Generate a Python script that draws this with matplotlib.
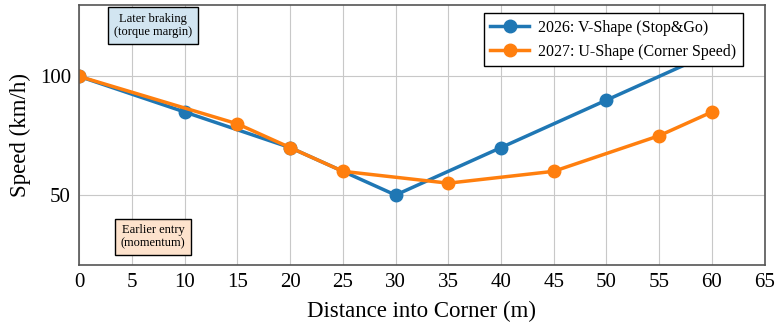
import matplotlib.pyplot as plt

plt.rcParams['font.family'] = ['Liberation Serif', 'DejaVu Serif']

dist_2026 = [0, 10, 20, 30, 40, 50, 60]
speed_2026 = [100, 85, 70, 50, 70, 90, 110]
dist_2027 = [0, 15, 20, 25, 35, 45, 55, 60]
speed_2027 = [100, 80, 70, 60, 55, 60, 75, 85]
label_2026 = "2026: V-Shape (Stop&Go)"
label_2027 = "2027: U-Shape (Corner Speed)"

fig = plt.figure(figsize=(7.77, 3.26), dpi=100)
ax = fig.add_axes([0.102, 0.187, 0.882, 0.797])

ax.plot(dist_2026, speed_2026, color='#1f77b4', lw=2.5, marker='o', ms=9, label=label_2026)
ax.plot(dist_2027, speed_2027, color='#ff7f0e', lw=2.5, marker='o', ms=9, label=label_2027)

ax.set_xlim(0, 65)
ax.set_ylim(20.5, 130)
ax.set_xticks(range(0, 66, 5))
ax.set_yticks([50, 100])
ax.grid(True, color='#c8c8c8', lw=0.8)
ax.tick_params(labelsize=15, length=0, pad=6)
for s in ax.spines.values():
    s.set_color('#555555')
    s.set_linewidth(1.2)

ax.set_xlabel("Distance into Corner (m)", fontsize=16.5, labelpad=6)
ax.set_ylabel("Speed (km/h)", fontsize=16.5, labelpad=6)

ax.text(7, 121.5, "Later braking\n(torque margin)", ha='center', va='center', fontsize=9,
        linespacing=1.15,
        bbox=dict(boxstyle='square,pad=0.45', fc='#d2e5f1', ec='black', lw=1))
ax.text(7, 32.4, "Earlier entry\n(momentum)", ha='center', va='center', fontsize=9,
        linespacing=1.15,
        bbox=dict(boxstyle='square,pad=0.45', fc='#fde2cc', ec='black', lw=1))

leg = ax.legend(loc='upper right', fontsize=11.5, fancybox=False, framealpha=1,
                edgecolor='black', borderpad=0.4, handlelength=2.4, handletextpad=0.6,
                bbox_to_anchor=(0.98, 1.0))
leg.get_frame().set_linewidth(1)

fig.savefig("out.png", dpi=100)
